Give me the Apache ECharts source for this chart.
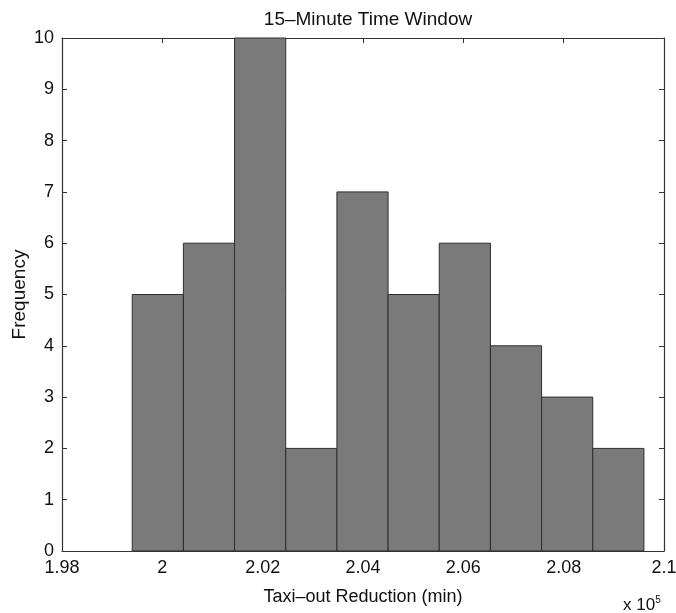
<!DOCTYPE html>
<html>
<head>
<meta charset="utf-8">
<script src="https://cdn.jsdelivr.net/npm/echarts@6/dist/echarts.min.js"></script>
<style>
html, body { margin: 0; padding: 0; background: #fff; }
#chart { width: 676px; height: 613px; }
</style>
</head>
<body>
<div id="chart"></div>
<script>
// bin edges (minutes), counts per bin
const binEdges = [199400, 200420, 201440, 202460, 203480, 204500, 205520, 206540, 207560, 208580, 209600];
const counts = [5, 6, 10, 2, 7, 5, 6, 4, 3, 2];
const xTicks = [198000, 200000, 202000, 204000, 206000, 208000, 210000];
const yTicks = [0, 1, 2, 3, 4, 5, 6, 7, 8, 9, 10];

const font = 'Liberation Sans, Arial, Helvetica, sans-serif';

const bars = counts.map((c, i) => [binEdges[i], binEdges[i + 1], c]);

const chart = echarts.init(document.getElementById('chart'));

const tickStyle = { show: true, inside: true, length: 5, lineStyle: { color: '#333', width: 1 } };
const lineStyle = { show: true, onZero: false, lineStyle: { color: '#333', width: 1.2 } };

chart.setOption({
    animation: false,
    title: {
        text: '15\u2013Minute Time Window',
        left: 363, top: 5, textAlign: 'center',
        textStyle: { fontFamily: font, fontSize: 19, fontWeight: 'normal', color: '#111' }
    },
    grid: { left: 62, right: 12, top: 38, bottom: 62, containLabel: false, outerBoundsMode: 'none' },
    xAxis: [{
        type: 'value',
        min: xTicks[0], max: xTicks[xTicks.length - 1], interval: 2000,
        axisLine: lineStyle, axisTick: tickStyle, splitLine: { show: false },
        axisLabel: {
            fontFamily: font, fontSize: 18, color: '#111', margin: 8,
            formatter: v => String(parseFloat((v / 1e5).toFixed(2)))
        },
        name: 'Taxi\u2013out Reduction (min)', nameLocation: 'middle', nameGap: 37,
        nameTextStyle: { fontFamily: font, fontSize: 18, color: '#111' }
    }, {
        type: 'value', position: 'top',
        min: xTicks[0], max: xTicks[xTicks.length - 1], interval: 2000,
        axisLine: lineStyle, axisTick: tickStyle, axisLabel: { show: false }, splitLine: { show: false }
    }],
    yAxis: [{
        type: 'value', min: yTicks[0], max: yTicks[yTicks.length - 1], interval: 1,
        axisLine: lineStyle, axisTick: tickStyle, splitLine: { show: false },
        axisLabel: { fontFamily: font, fontSize: 18, color: '#111', margin: 8 },
        name: 'Frequency', nameLocation: 'middle', nameGap: 33, nameMoveOverlap: false,
        nameTextStyle: { fontFamily: font, fontSize: 19, color: '#111' }
    }, {
        type: 'value', position: 'right', min: yTicks[0], max: yTicks[yTicks.length - 1], interval: 1,
        axisLine: lineStyle, axisTick: tickStyle, axisLabel: { show: false }, splitLine: { show: false }
    }],
    graphic: [{
        type: 'text', left: 623, top: 595,
        style: {
            text: 'x 10{s|5}', fontFamily: font, fontSize: 17, fill: '#111',
            rich: { s: { fontSize: 10, verticalAlign: 'top', padding: [0, 0, 10, 0] } }
        }
    }],
    series: [{
        type: 'custom',
        xAxisIndex: 0, yAxisIndex: 0,
        data: bars,
        encode: { x: [0, 1], y: 2 },
        renderItem: function (params, api) {
            const p0 = api.coord([api.value(0), 0]);
            const p1 = api.coord([api.value(1), api.value(2)]);
            return {
                type: 'rect',
                shape: { x: p0[0], y: p1[1], width: p1[0] - p0[0], height: p0[1] - p1[1] },
                style: { fill: '#7a7a7a', stroke: '#2e2e2e', lineWidth: 1 }
            };
        }
    }]
});
</script>
</body>
</html>
